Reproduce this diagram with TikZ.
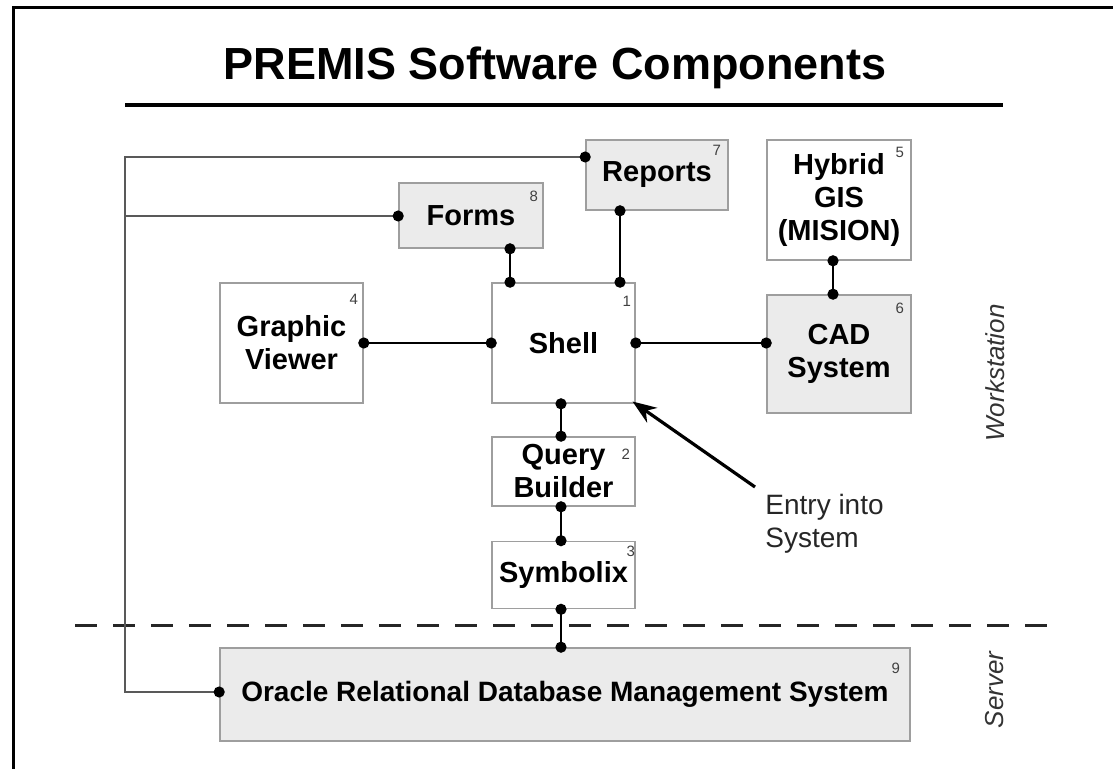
\documentclass[tikz,border=0pt]{standalone}
\usepackage{fontspec}
\setmainfont{Liberation Sans}
\usetikzlibrary{arrows.meta,calc}
\newcommand\boxfont{\fontsize{14.5}{16.5}\selectfont\bfseries}
\newcommand\numfont{\fontsize{7.5}{8}\selectfont}
\begin{document}
\begin{tikzpicture}[x=0.5pt,y=-0.5pt,
  box/.style={draw=black!38, line width=0.8pt, inner sep=0pt, align=center, font=\boxfont, fill=white},
  shadebox/.style={box, fill=black!8},
  num/.style={font=\numfont, text=black!75, inner sep=0pt},
  dotend/.style={shorten <=-2.75pt, shorten >=-2.75pt},
  conn/.style={line width=1.4pt, {Circle[length=5.5pt]}-{Circle[length=5.5pt]}, dotend},
  bus/.style={line width=1pt, draw=black!65},
  sidelbl/.style={rotate=90, font=\fontsize{13}{15}\selectfont\itshape, text=black!80}
]
\useasboundingbox (0,0) rectangle (1113,769);
% frame
\draw[line width=1.5pt] (13,769) -- (13,8) -- (1113,8);
% title
\node (title) at (555,68) {\fontsize{22.5}{26}\selectfont\bfseries PREMIS Software Components};
\draw[line width=1.6pt] (125,105) -- (1003,105);
% boxes
\node[shadebox, minimum width=71pt, minimum height=35pt] (reports) at (657,175) {Reports};
\node[shadebox, minimum width=72pt, minimum height=32.5pt] (forms) at (471,215.5) {Forms};
\node[box, minimum width=72pt, minimum height=60pt] (hybrid) at (839,200) {Hybrid\\GIS\\(MISION)};
\node[shadebox, minimum width=72pt, minimum height=59pt] (cad) at (839,354) {CAD\\System};
\node[box, minimum width=71.5pt, minimum height=60pt] (gv) at (291.5,343) {Graphic\\Viewer};
\node[box, minimum width=71.5pt, minimum height=60pt] (shell) at (563.5,343) {Shell};
\node[box, minimum width=71.5pt, minimum height=34.5pt] (query) at (563.5,471.5) {Query\\Builder};
\node[box, minimum width=71.5pt, minimum height=33.5pt] (symb) at (563.5,575) {Symbolix};
\node[shadebox, minimum width=345pt, minimum height=46.5pt, font=\fontsize{14}{16}\selectfont\bfseries] (oracle) at (565,694.5) {Oracle Relational Database Management System};
% numbers
\node[num] (n7) at ($(reports.north east)+(-12,11)$) {7};
\node[num] (n8) at ($(forms.north east)+(-10,14)$) {8};
\node[num] (n5) at ($(hybrid.north east)+(-12,13)$) {5};
\node[num] (n6) at ($(cad.north east)+(-12,14)$) {6};
\node[num] (n4) at ($(gv.north east)+(-10,17)$) {4};
\node[num] (n1) at ($(shell.north east)+(-9,19)$) {1};
\node[num] (n2) at ($(query.north east)+(-10,18)$) {2};
\node[num] (n3) at ($(symb.north east)+(-5,11)$) {3};
\node[num] (n9) at ($(oracle.north east)+(-15,21)$) {9};
% side labels
\node[sidelbl] (ws) at (995,373) {Workstation};
\node[sidelbl] (srv) at (995,690) {Server};
% dashed boundary
\draw[line width=1.5pt, draw=black!85, dash pattern=on 11pt off 8pt] (75,625) -- (1048,625);
% coordinates
\coordinate (fx) at (510,0);
\coordinate (rx) at (620,0);
\coordinate (sx) at (561,0);
\coordinate (hx) at (833,0);
\coordinate (busTop) at (125,157);
\coordinate (busMid) at (125,216);
\coordinate (busBot) at (125,692);
% bus
\draw[bus, {Circle[length=5.5pt, color=black]}-{Circle[length=5.5pt, color=black]}, dotend]
  (reports.west |- busTop) -- (busTop) -- (busBot) -- (oracle.west |- busBot);
\draw[bus, -{Circle[length=5.5pt, color=black]}, shorten >=-2.75pt] (busMid) -- (forms.west |- busMid);
% connectors
\draw[conn] (forms.south -| fx) -- (shell.north -| fx);
\draw[conn] (reports.south -| rx) -- (shell.north -| rx);
\draw[conn] (gv.east) -- (shell.west);
\draw[conn] (shell.east) -- (cad.west |- shell.east);
\draw[conn] (hybrid.south -| hx) -- (cad.north -| hx);
\draw[conn] (shell.south -| sx) -- (query.north -| sx);
\draw[conn] (query.south -| sx) -- (symb.north -| sx);
\draw[conn] (symb.south -| sx) -- (oracle.north -| sx);
% entry note
\node[align=left, anchor=north west, inner sep=0pt, font=\fontsize{14}{16.5}\selectfont, text=black!85] (entry) at (765,494) {Entry into\\System};
\coordinate (etail) at (755,487);
\draw[line width=1.6pt, -{Stealth[length=12pt,width=9pt]}, shorten >=-2pt] (etail) -- (shell.south east);
\end{tikzpicture}
\end{document}
